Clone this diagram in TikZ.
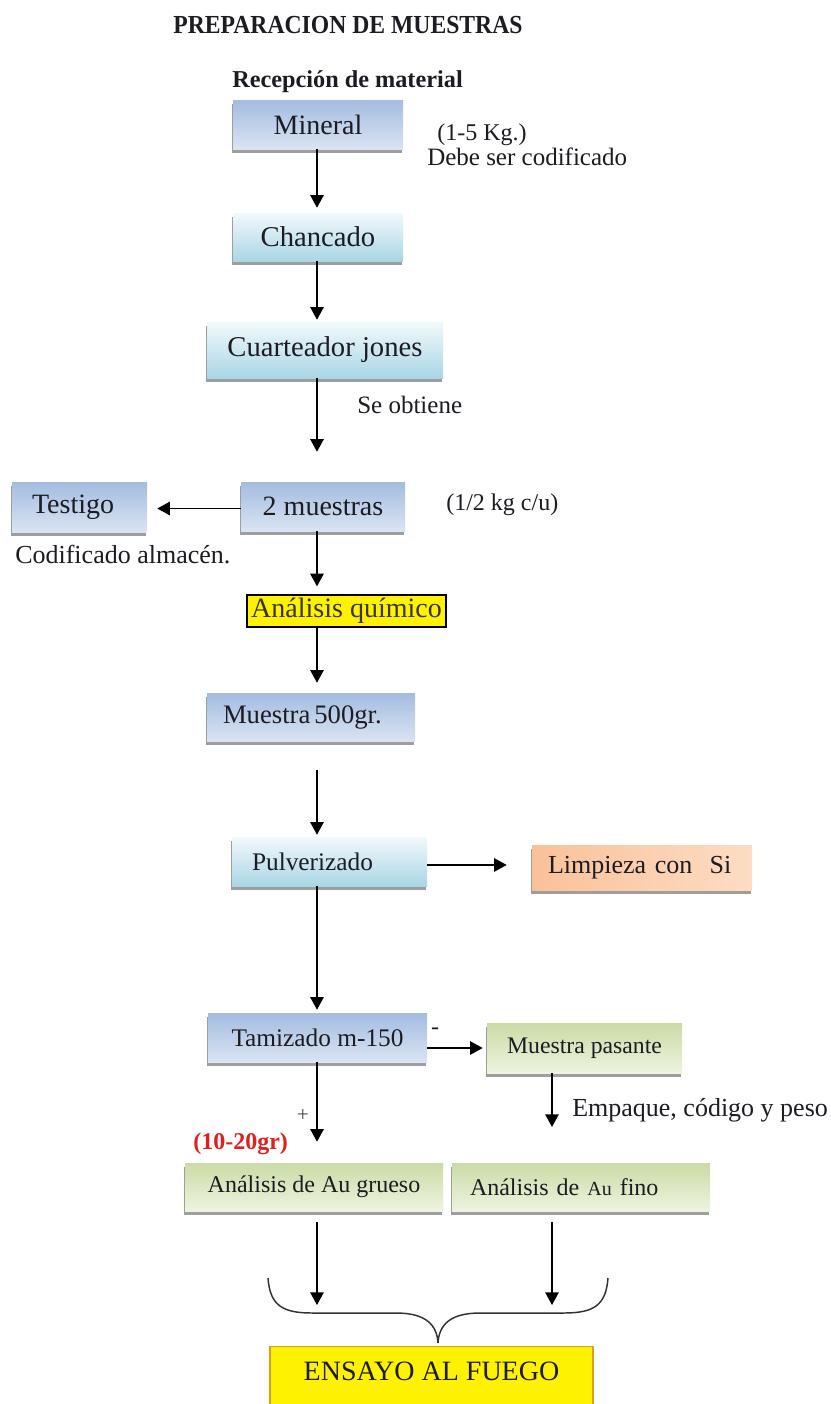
\documentclass[tikz,border=0pt]{standalone}
\usepackage{fontspec}
\usepackage{graphicx}
\setmainfont{Liberation Serif}
\usetikzlibrary{arrows.meta,shadows}

\definecolor{txt}{HTML}{1C1C22}
\definecolor{bluedk}{HTML}{A3BCE0}
\definecolor{bluelt}{HTML}{DAE4F3}
\definecolor{cyanlt}{HTML}{F2F9FC}
\definecolor{cyandk}{HTML}{A9D6E5}
\definecolor{greendk}{HTML}{CADBA6}
\definecolor{greenlt}{HTML}{EEF4E0}
\definecolor{orgdk}{HTML}{FAC199}
\definecolor{orglt}{HTML}{FDDCC3}
\definecolor{ensborder}{HTML}{D9A21B}
\definecolor{redtxt}{HTML}{E0201C}
\definecolor{bracecol}{HTML}{333333}

\tikzset{
  sz/.style 2 args={minimum width=#1*0.75pt, minimum height=#2*0.75pt},
  fsz/.style={font=\fontsize{#1}{#1}\selectfont},
  box/.style={rectangle, inner sep=0pt, text=txt,
    drop shadow={shadow xshift=-1pt, shadow yshift=-2.8pt, fill=black, opacity=0.38}},
  bluebox/.style={box, top color=bluedk, bottom color=bluelt},
  cyanbox/.style={box, top color=cyanlt, bottom color=cyandk},
  greenbox/.style={box, top color=greendk, bottom color=greenlt},
  orangebox/.style={box, left color=orgdk, right color=orglt},
  note/.style={text=txt, inner sep=0pt},
  arr/.style={line width=1.4pt, draw=black, -{Triangle[length=9.5pt,width=10pt]}},
}

\begin{document}
\begin{tikzpicture}[x=0.75pt,y=-0.75pt]
\useasboundingbox (0,0) rectangle (831,1404);
\fill[white] (0,0) rectangle (831,1404);

% headings
\node[note, anchor=base, font=\bfseries\fontsize{19.5}{22}\selectfont] (title) at (348,33)
  {\scalebox{0.91}[1]{PREPARACION DE MUESTRAS}};
\node[note, anchor=base, font=\bfseries\fontsize{18.2}{22}\selectfont] (recep) at (347.5,87)
  {Recepción de material};

% process boxes
\node[bluebox, sz={170}{49}, fsz=21] (mineral) at (318,124.5) {Mineral};
\node[cyanbox, sz={170}{48}, fsz=21.5] (chancado) at (318,237) {Chancado};
\node[cyanbox, sz={236}{56}, fsz=21.5] (cuart) at (325,350) {Cuarteador jones};
\node[bluebox, sz={164}{49}, fsz=21] (dosm) at (323,506.5) {2 muestras};
\node[bluebox, sz={135}{50}, fsz=21, inner xsep=15pt, text width=71.25pt, align=left] (testigo) at (79.5,507) {Testigo};
\node[draw=black, line width=1pt, fill=yellow, text=black!80!olive, inner sep=0pt, sz={199}{32}, fsz=21] (analq) at (346.5,611) {Análisis químico};
\node[bluebox, sz={208}{48}, fsz=20, inner xsep=12pt, text width=132pt, align=left] (m500) at (311,717) {Muestra\hspace{0.15em}500gr.};
\node[cyanbox, sz={195}{49}, fsz=19, inner xsep=15pt, text width=116.25pt, align=left] (pulv) at (329.5,861.5) {Pulverizado};
\node[orangebox, sz={220}{45}, fsz=19.5, inner xsep=12pt, text width=141pt, align=left] (limp) at (642,867.5) {Limpieza con~ Si};
\node[bluebox, sz={219}{49}, fsz=19] (tamiz) at (317.5,1037.5) {Tamizado m-150};
\node[greenbox, sz={195}{50}, fsz=17.8] (pasante) at (584.5,1048) {Muestra pasante};
\node[greenbox, sz={258}{48}, fsz=18] (augr) at (314,1187) {Análisis de Au grueso};
\node[greenbox, sz={258}{48}, fsz=18, inner xsep=13.5pt, text width=166.5pt, align=left] (aufino) at (581,1187)
  {Análisis de {\fontsize{15}{15}\selectfont Au} fino};
\node[fill=yellow, draw=ensborder, line width=0.8pt, sz={323}{64}, anchor=north, inner sep=0pt] (ensayo) at (431.5,1346) {};
\node[note, fsz=21] (ensayotxt) at (431.5,1371) {ENSAYO AL FUEGO};

% side notes
\node[note, anchor=base west, fsz=18] (kg) at (437,140) {(1-5 Kg.)};
\node[note, anchor=base west, fsz=18.75] (debe) at (427,165) {Debe ser codificado};
\node[note, anchor=base west, fsz=18.75] (seobt) at (357,413) {Se obtiene};
\node[note, anchor=base west, fsz=18] (half) at (446,510) {(1/2 kg c/u)};
\node[note, anchor=base west, fsz=19.5] (codif) at (15,563) {Codificado almacén.};
\node[note, fsz=18] (minus) at (435,1031) {-};
\node[note, fsz=16, text=black!70] (plus) at (303,1115) {+};
\node[note, anchor=base west, text=redtxt, font=\bfseries\fontsize{18}{18}\selectfont] (grams) at (193,1149) {(10-20gr)};
\node[note, anchor=base west, fsz=19.5] (empaque) at (572,1116) {Empaque, código y peso};

% connectors
\coordinate (spine) at (317,0);
\coordinate (empq) at (552,1127);
\coordinate (braceL) at (317,1305);
\coordinate (braceR) at (552,1305);

\draw[arr, shorten >=3.75pt] (mineral.south -| spine) -- (chancado.north -| spine);
\draw[arr, shorten >=1.5pt] (chancado.south -| spine) -- (cuart.north -| spine);
\draw[arr, shorten >=22.5pt] (cuart.south -| spine) -- (dosm.north -| spine);
\draw[arr, shorten >=6pt] (dosm.south -| spine) -- (analq.north -| spine);
\draw[arr, shorten >=7.5pt] (analq.south -| spine) -- (m500.north -| spine);
\draw[arr, shorten <=21.75pt, shorten >=1.5pt] (m500.south -| spine) -- (pulv.north -| spine);
\draw[arr, shorten >=2.25pt] (pulv.south -| spine) -- (tamiz.north -| spine);
\draw[arr, shorten >=15.75pt] (tamiz.south -| spine) -- (augr.north -| spine);
\draw[arr, shorten >=7.5pt] ([yshift=-1.5pt]dosm.west) -- ([yshift=-1.5pt]dosm.west -| testigo.east);
\draw[arr, shorten >=18.75pt] ([yshift=-2.6pt]pulv.east) -- ([yshift=-2.6pt]pulv.east -| limp.west);
\draw[arr, shorten >=3pt] (tamiz.east |- pasante.west) -- (pasante.west);
\draw[arr] (pasante.south -| empq) -- (empq);
\draw[arr, shorten <=8.25pt] (augr.south -| braceL) -- (braceL);
\draw[arr, shorten <=8.25pt] (aufino.south -| braceR) -- (braceR);

% brace gathering both analyses
\draw[bracecol, line width=1.1pt]
  (268,1278) .. controls (270,1305) and (282,1313) .. (312,1313)
  -- (396,1313) .. controls (426,1313) and (437,1325) .. (438,1343)
  .. controls (439,1325) and (450,1313) .. (480,1313)
  -- (564,1313) .. controls (594,1313) and (606,1305) .. (608,1278);
\end{tikzpicture}
\end{document}
